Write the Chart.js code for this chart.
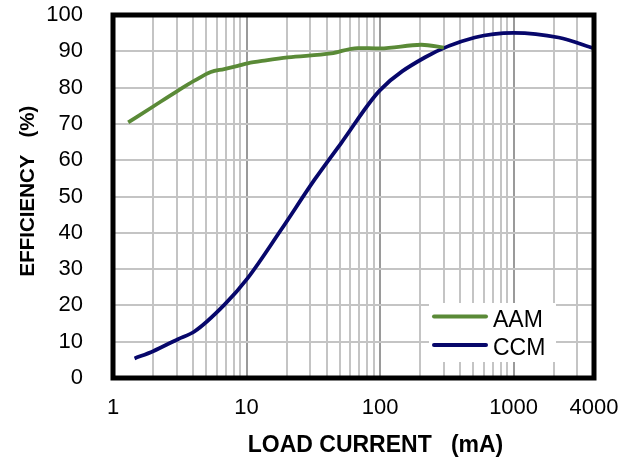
<!DOCTYPE html>
<html>
<head>
<meta charset="utf-8">
<script src="https://cdn.jsdelivr.net/npm/chart.js@4/dist/chart.umd.min.js"></script>
<style>
  html, body { margin: 0; padding: 0; background: #fff; }
  #wrap { width: 621px; height: 457px; }
</style>
</head>
<body>
<div id="wrap"><canvas id="effChart"></canvas></div>
<script>
// efficiency vs load current
const aamCurrent = [1.3, 2, 3.05, 4.07, 5.4, 6.8, 8.6, 10.2, 14, 20.4, 43, 68, 100, 204, 300];
const aamEfficiency = [70.4, 74.8, 79.1, 81.9, 84.3, 85.1, 86.0, 86.7, 87.5, 88.3, 89.4, 90.9, 90.8, 91.8, 91.0];

const ccmCurrent = [1.45, 2, 3.06, 4.07, 6.84, 10.2, 18.2, 32.4, 51.3, 100, 216, 512, 1000, 2170, 4000];
const ccmEfficiency = [5.4, 7.4, 10.7, 12.8, 20.2, 27.5, 40.9, 54.7, 64.8, 79.3, 88.3, 93.8, 95.1, 93.8, 90.8];

const xGridValues = [1, 2, 3, 4, 5, 6, 7, 8, 9, 10, 20, 30, 40, 50, 60, 70, 80, 90,
  100, 200, 300, 400, 500, 600, 700, 800, 900, 1000, 2000, 3000, 4000];
const xTickLabels = [1, 10, 100, 1000, 4000];
const yTickLabels = [0, 10, 20, 30, 40, 50, 60, 70, 80, 90, 100];

const FONT = '"Liberation Sans", Arial, sans-serif';

function toPoints(xs, ys) {
  return xs.map((x, i) => ({ x: x, y: ys[i] }));
}

// black box round the plot, titles and the legend
const decorPlugin = {
  id: 'decor',
  afterDraw(chart) {
    const ctx = chart.ctx;
    const a = chart.chartArea;
    ctx.save();

    // legend box
    const lx = 429, ly = 303, lw = 127, lh = 59;
    ctx.fillStyle = '#fff';
    ctx.fillRect(lx, ly, lw, lh);
    ctx.font = '23px ' + FONT;
    ctx.textBaseline = 'alphabetic';
    chart.data.datasets.forEach((ds, i) => {
      const y = 316.5 + i * 28.5;
      ctx.strokeStyle = ds.borderColor;
      ctx.lineWidth = 4;
      ctx.lineCap = 'round';
      ctx.beginPath();
      ctx.moveTo(lx + 5, y);
      ctx.lineTo(lx + 57, y);
      ctx.stroke();
      ctx.fillStyle = '#000';
      ctx.textAlign = 'left';
      ctx.fillText(ds.label, lx + 64, y + 10);
    });

    // frame
    ctx.strokeStyle = '#000';
    ctx.lineWidth = 5;
    ctx.lineCap = 'butt';
    ctx.strokeRect(a.left, a.top, a.right - a.left, a.bottom - a.top);

    // axis titles
    ctx.fillStyle = '#000';
    ctx.textAlign = 'center';
    ctx.textBaseline = 'alphabetic';
    ctx.font = 'bold 23px ' + FONT;
    ctx.fillText('LOAD CURRENT   (mA)', 375.5, 452);
    ctx.translate(34, 191);
    ctx.rotate(-Math.PI / 2);
    ctx.font = 'bold 20.5px ' + FONT;
    ctx.fillText('EFFICIENCY   (%)', 0, 0);
    ctx.restore();
  }
};

new Chart(document.getElementById('effChart'), {
  type: 'line',
  data: {
    datasets: [
      {
        label: 'AAM',
        data: toPoints(aamCurrent, aamEfficiency),
        borderColor: '#5a8a37',
        borderWidth: 3.8,
        pointRadius: 0,
        cubicInterpolationMode: 'monotone',
        fill: false
      },
      {
        label: 'CCM',
        data: toPoints(ccmCurrent, ccmEfficiency),
        borderColor: '#07076b',
        borderWidth: 3.8,
        pointRadius: 0,
        cubicInterpolationMode: 'monotone',
        fill: false
      }
    ]
  },
  options: {
    responsive: true,
    maintainAspectRatio: false,
    animation: false,
    layout: { padding: { left: 0, top: 15, right: 27, bottom: 0 } },
    scales: {
      x: {
        type: 'logarithmic',
        min: 1,
        max: 4000,
        afterBuildTicks: s => { s.ticks = xGridValues.map(v => ({ value: v })); },
        afterFit: s => { s.height = 79; s.paddingLeft = 0; s.paddingRight = 0; },
        ticks: {
          autoSkip: false,
          maxRotation: 0,
          padding: 17,
          color: '#000',
          font: { family: FONT, size: 22 },
          callback: v => (xTickLabels.includes(v) ? String(v) : '')
        },
        grid: {
          drawTicks: false,
          lineWidth: 2,
          color: c => (xTickLabels.includes(c.tick && c.tick.value) && c.tick.value !== 4000 ? '#9a9a9a' : '#c4c4c4')
        },
        border: { display: false }
      },
      y: {
        type: 'linear',
        min: 0,
        max: 100,
        afterBuildTicks: s => { s.ticks = yTickLabels.map(v => ({ value: v })); },
        afterFit: s => { s.width = 113; s.paddingTop = 0; s.paddingBottom = 0; },
        ticks: {
          padding: 30,
          color: '#000',
          font: { family: FONT, size: 22 }
        },
        grid: { drawTicks: false, lineWidth: 2, color: '#c4c4c4' },
        border: { display: false }
      }
    },
    plugins: {
      legend: { display: false },
      tooltip: { enabled: false }
    }
  },
  plugins: [decorPlugin]
});
</script>
</body>
</html>
